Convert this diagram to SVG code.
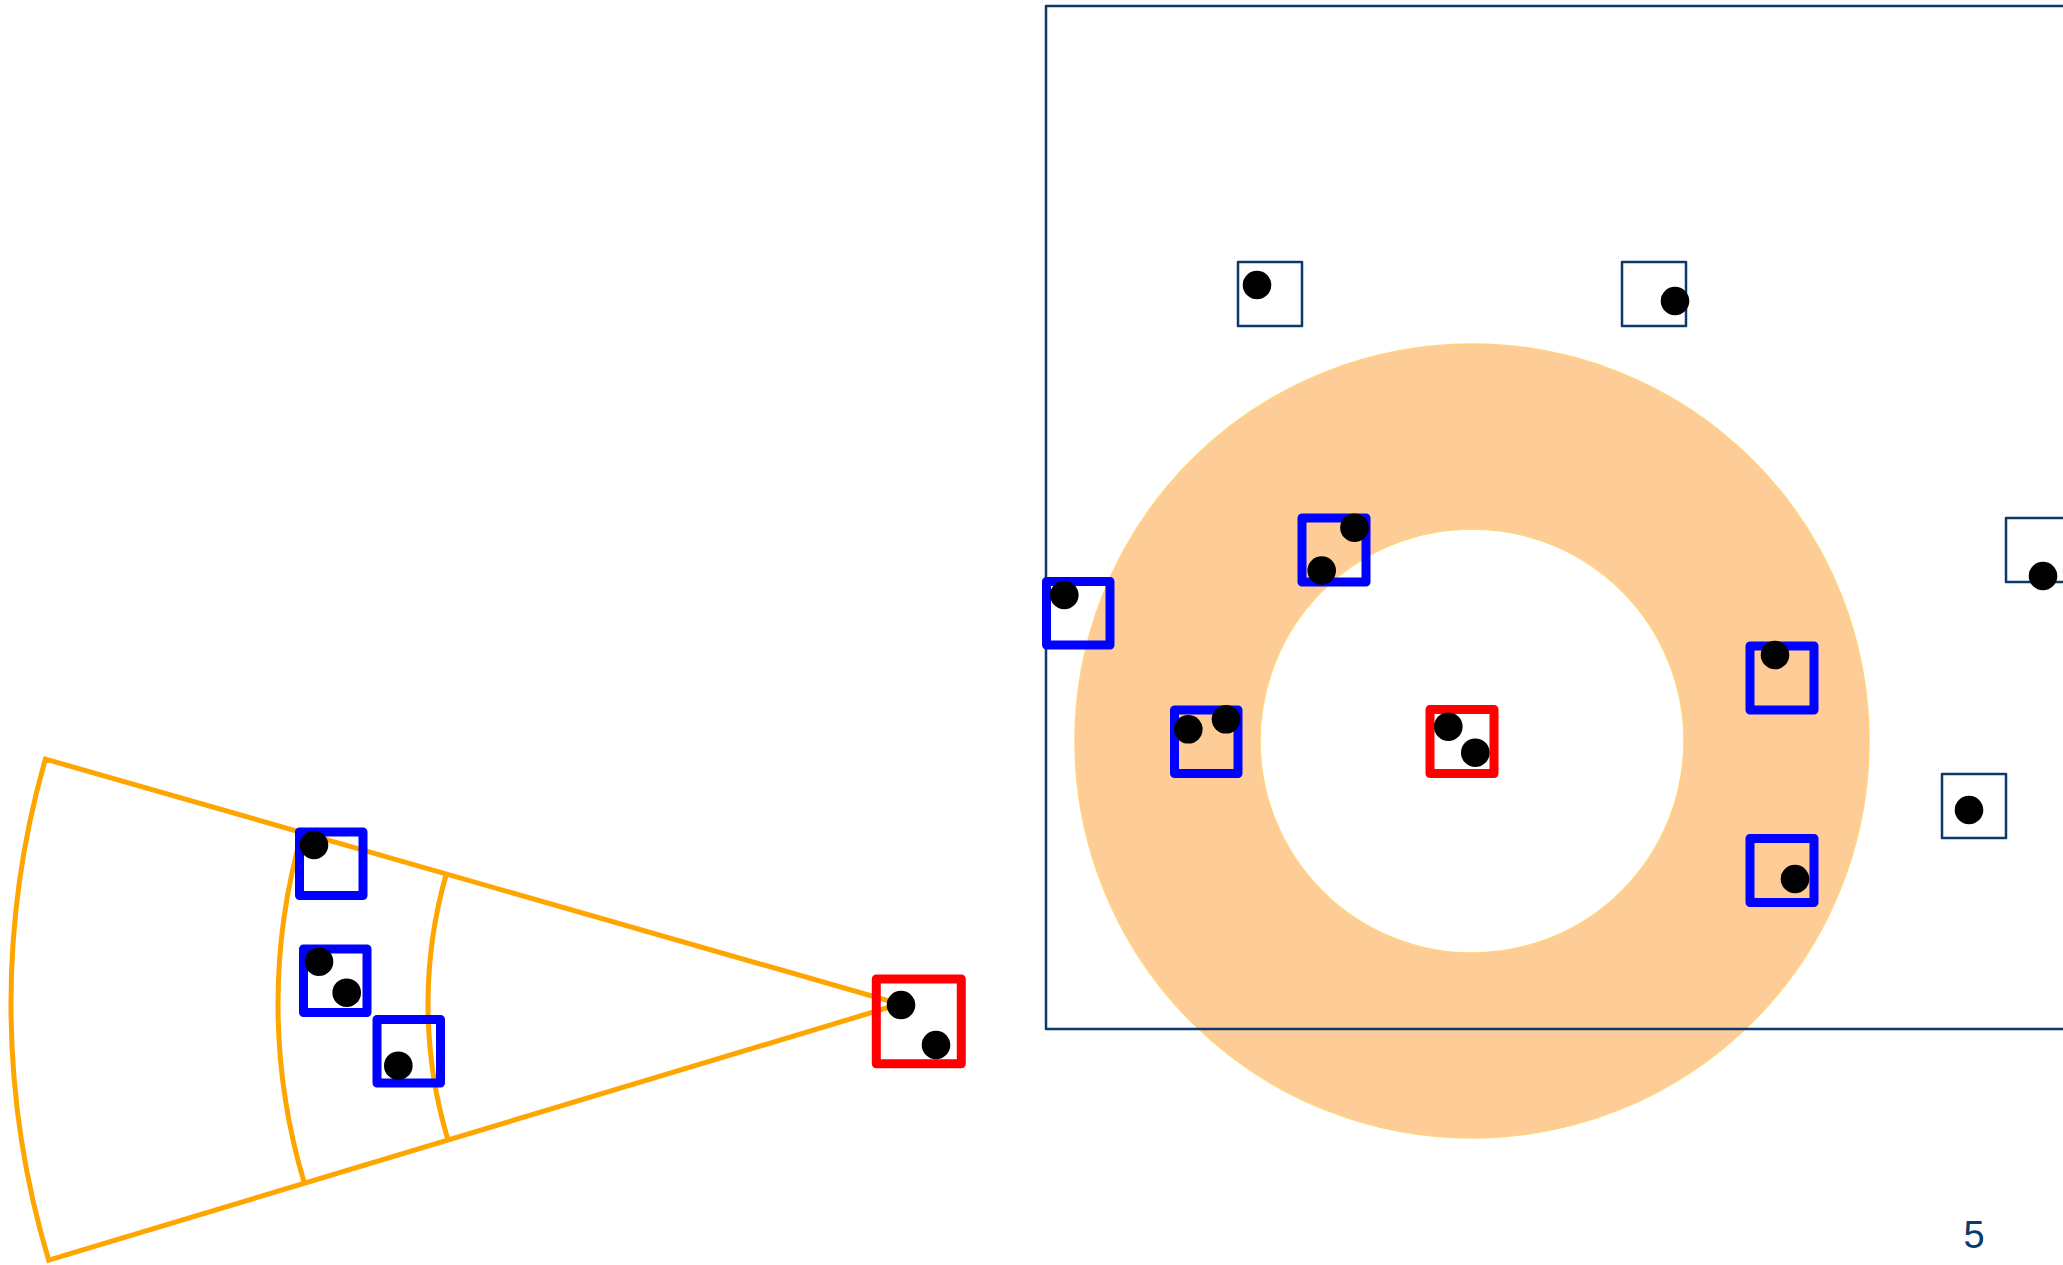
<svg xmlns="http://www.w3.org/2000/svg" width="2063" height="1265" viewBox="0 0 2063 1265">
  <style>
    .bg { fill: #ffffff; }
    .arc { fill: none; stroke: #FFA500; stroke-width: 5; }
    .frame { fill: none; stroke: #0B3A6B; stroke-width: 2.5; stroke-linejoin: round; }
    .small { fill: none; stroke: #0B3A6B; stroke-width: 2.5; stroke-linejoin: round; }
    .blue { fill: none; stroke: #0000FF; stroke-width: 9; stroke-linejoin: round; }
    .red { fill: none; stroke: #FF0000; stroke-width: 9; stroke-linejoin: round; }
    .dot { fill: #000000; }
    .ring { fill: #FECC97; fill-rule: evenodd; stroke: #FFD47F; stroke-width: 1.5; }
    .label { font-family: "Liberation Sans", Arial, sans-serif; font-size: 38px; fill: #0B3A6B; }
  </style>
  <defs>
    <circle id="d" r="14.3"/>
  </defs>
  <rect class="bg" x="0" y="0" width="2063" height="1265"/>

  <!-- Left figure: sector -->
  <g id="sector">
    <path class="arc" d="M 45.4 759.1 L 900 1004 L 48.7 1260.2 A 889 889 0 0 1 45.4 759.1 Z"/>
    <path class="arc" d="M 302.1 832.6 A 622 622 0 0 0 304.4 1183.3"/>
    <path class="arc" d="M 446.3 874 A 472 472 0 0 0 448 1140"/>
  </g>

  <g id="left-box-1">
    <rect class="blue" x="299.5" y="832" width="63.5" height="63.5"/>
    <use href="#d" class="dot" x="314" y="845"/>
  </g>
  <g id="left-box-2">
    <rect class="blue" x="303.5" y="949" width="63.5" height="63.5"/>
    <use href="#d" class="dot" x="319" y="961.7"/>
    <use href="#d" class="dot" x="346.7" y="992.7"/>
  </g>
  <g id="left-box-3">
    <rect class="blue" x="377" y="1019.5" width="63.5" height="63.5"/>
    <use href="#d" class="dot" x="398.3" y="1065.7"/>
  </g>
  <g id="left-red">
    <rect class="red" x="876.3" y="979" width="85" height="84.7"/>
    <use href="#d" class="dot" x="901" y="1005"/>
    <use href="#d" class="dot" x="936" y="1045"/>
  </g>

  <!-- Right figure -->
  <g id="ring">
    <path class="ring" d="M 1075 741 A 397 397 0 1 0 1869 741 A 397 397 0 1 0 1075 741 Z M 1260 741 A 212 212 0 1 0 1684 741 A 212 212 0 1 0 1260 741 Z"/>
  </g>
  <g id="frame">
    <rect class="frame" x="1046" y="6" width="1100" height="1023"/>
  </g>

  <g id="grey-1">
    <rect class="small" x="1238" y="262" width="64" height="64"/>
    <use href="#d" class="dot" x="1257" y="285"/>
  </g>
  <g id="grey-2">
    <rect class="small" x="1622" y="262" width="64" height="64"/>
    <use href="#d" class="dot" x="1675" y="301"/>
  </g>
  <g id="grey-3">
    <rect class="small" x="2006" y="518" width="64" height="64"/>
    <use href="#d" class="dot" x="2043" y="576"/>
  </g>
  <g id="grey-4">
    <rect class="small" x="1942" y="774" width="64" height="64"/>
    <use href="#d" class="dot" x="1969" y="810"/>
  </g>

  <g id="blue-1">
    <rect class="blue" x="1046.5" y="581.5" width="63.5" height="63.5"/>
    <use href="#d" class="dot" x="1064.3" y="595"/>
  </g>
  <g id="blue-2">
    <rect class="blue" x="1302" y="518" width="64" height="64"/>
    <use href="#d" class="dot" x="1354.5" y="527.7"/>
    <use href="#d" class="dot" x="1321.7" y="570.5"/>
  </g>
  <g id="blue-3">
    <rect class="blue" x="1174.5" y="710" width="63.5" height="63.5"/>
    <use href="#d" class="dot" x="1188.3" y="729.3"/>
    <use href="#d" class="dot" x="1226" y="719.3"/>
  </g>
  <g id="blue-4">
    <rect class="blue" x="1750" y="646" width="64" height="64"/>
    <use href="#d" class="dot" x="1775" y="655"/>
  </g>
  <g id="blue-5">
    <rect class="blue" x="1750" y="838.5" width="64" height="64"/>
    <use href="#d" class="dot" x="1795" y="879"/>
  </g>
  <g id="red-center">
    <rect class="red" x="1430" y="709.5" width="64" height="64"/>
    <use href="#d" class="dot" x="1448.3" y="726.7"/>
    <use href="#d" class="dot" x="1475.3" y="752.7"/>
  </g>

  <g id="connectors"/>

  <text class="label" x="1974" y="1248" text-anchor="middle">5</text>
</svg>
